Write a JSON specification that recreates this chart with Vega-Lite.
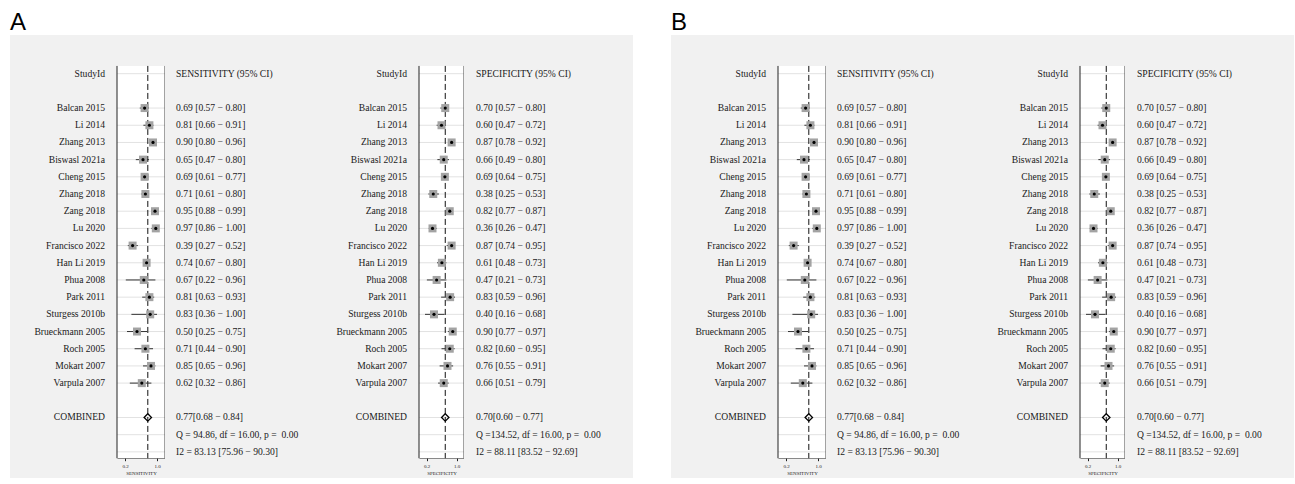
{
  "$schema": "https://vega.github.io/schema/vega-lite/v6.json",
  "background": "white",
  "padding": {"left": 10, "top": 11, "right": 0, "bottom": 0},
  "config": {
    "view": {"stroke": null, "fill": "#f1f1f1"},
    "text": {"font": "Liberation Serif", "fontSize": 9.6, "color": "#1a1a1a"},
    "axisX": {"offset": -20.3, "zindex": 1, "grid": false,
              "domainColor": "#222", "tickColor": "#222", "tickSize": 3, "labelFont": "Liberation Serif", "labelFontSize": 5, "labelPadding": 2.5, "labelColor": "#222",
              "titleFont": "Liberation Serif", "titleFontSize": 5, "titleFontWeight": "normal", "titlePadding": 2, "titleColor": "#222"}
  },
  "datasets": {
    "sens": [
      {"row": -2, "study": "StudyId", "txt": "SENSITIVITY (95% CI)"},
      {"row": 0, "study": "Balcan 2015", "est": 0.69, "lo": 0.57, "hi": 0.80, "txt": "0.69 [0.57 − 0.80]"},
      {"row": 1, "study": "Li 2014", "est": 0.81, "lo": 0.66, "hi": 0.91, "txt": "0.81 [0.66 − 0.91]"},
      {"row": 2, "study": "Zhang 2013", "est": 0.90, "lo": 0.80, "hi": 0.96, "txt": "0.90 [0.80 − 0.96]"},
      {"row": 3, "study": "Biswasl 2021a", "est": 0.65, "lo": 0.47, "hi": 0.80, "txt": "0.65 [0.47 − 0.80]"},
      {"row": 4, "study": "Cheng 2015", "est": 0.69, "lo": 0.61, "hi": 0.77, "txt": "0.69 [0.61 − 0.77]"},
      {"row": 5, "study": "Zhang 2018", "est": 0.71, "lo": 0.61, "hi": 0.80, "txt": "0.71 [0.61 − 0.80]"},
      {"row": 6, "study": "Zang 2018", "est": 0.95, "lo": 0.88, "hi": 0.99, "txt": "0.95 [0.88 − 0.99]"},
      {"row": 7, "study": "Lu 2020", "est": 0.97, "lo": 0.86, "hi": 1.00, "txt": "0.97 [0.86 − 1.00]"},
      {"row": 8, "study": "Francisco 2022", "est": 0.39, "lo": 0.27, "hi": 0.52, "txt": "0.39 [0.27 − 0.52]"},
      {"row": 9, "study": "Han Li 2019", "est": 0.74, "lo": 0.67, "hi": 0.80, "txt": "0.74 [0.67 − 0.80]"},
      {"row": 10, "study": "Phua 2008", "est": 0.67, "lo": 0.22, "hi": 0.96, "txt": "0.67 [0.22 − 0.96]"},
      {"row": 11, "study": "Park 2011", "est": 0.81, "lo": 0.63, "hi": 0.93, "txt": "0.81 [0.63 − 0.93]"},
      {"row": 12, "study": "Sturgess 2010b", "est": 0.83, "lo": 0.36, "hi": 1.00, "txt": "0.83 [0.36 − 1.00]"},
      {"row": 13, "study": "Brueckmann 2005", "est": 0.50, "lo": 0.25, "hi": 0.75, "txt": "0.50 [0.25 − 0.75]"},
      {"row": 14, "study": "Roch 2005", "est": 0.71, "lo": 0.44, "hi": 0.90, "txt": "0.71 [0.44 − 0.90]"},
      {"row": 15, "study": "Mokart 2007", "est": 0.85, "lo": 0.65, "hi": 0.96, "txt": "0.85 [0.65 − 0.96]"},
      {"row": 16, "study": "Varpula 2007", "est": 0.62, "lo": 0.32, "hi": 0.86, "txt": "0.62 [0.32 − 0.86]"},
      {"row": 18, "study": "COMBINED", "est": 0.77, "lo": 0.68, "hi": 0.84, "txt": "\u00a00.77[0.68 − 0.84]"},
      {"row": 19, "study": "", "txt": "Q = 94.86, df = 16.00, p =\u00a0\u00a00.00"},
      {"row": 20, "study": "", "txt": "I2 = 83.13 [75.96 − 90.30]"}
    ],
    "spec": [
      {"row": -2, "study": "StudyId", "txt": "SPECIFICITY (95% CI)"},
      {"row": 0, "study": "Balcan 2015", "est": 0.70, "lo": 0.57, "hi": 0.80, "txt": "0.70 [0.57 − 0.80]"},
      {"row": 1, "study": "Li 2014", "est": 0.60, "lo": 0.47, "hi": 0.72, "txt": "0.60 [0.47 − 0.72]"},
      {"row": 2, "study": "Zhang 2013", "est": 0.87, "lo": 0.78, "hi": 0.92, "txt": "0.87 [0.78 − 0.92]"},
      {"row": 3, "study": "Biswasl 2021a", "est": 0.66, "lo": 0.49, "hi": 0.80, "txt": "0.66 [0.49 − 0.80]"},
      {"row": 4, "study": "Cheng 2015", "est": 0.69, "lo": 0.64, "hi": 0.75, "txt": "0.69 [0.64 − 0.75]"},
      {"row": 5, "study": "Zhang 2018", "est": 0.38, "lo": 0.25, "hi": 0.53, "txt": "0.38 [0.25 − 0.53]"},
      {"row": 6, "study": "Zang 2018", "est": 0.82, "lo": 0.77, "hi": 0.87, "txt": "0.82 [0.77 − 0.87]"},
      {"row": 7, "study": "Lu 2020", "est": 0.36, "lo": 0.26, "hi": 0.47, "txt": "0.36 [0.26 − 0.47]"},
      {"row": 8, "study": "Francisco 2022", "est": 0.87, "lo": 0.74, "hi": 0.95, "txt": "0.87 [0.74 − 0.95]"},
      {"row": 9, "study": "Han Li 2019", "est": 0.61, "lo": 0.48, "hi": 0.73, "txt": "0.61 [0.48 − 0.73]"},
      {"row": 10, "study": "Phua 2008", "est": 0.47, "lo": 0.21, "hi": 0.73, "txt": "0.47 [0.21 − 0.73]"},
      {"row": 11, "study": "Park 2011", "est": 0.83, "lo": 0.59, "hi": 0.96, "txt": "0.83 [0.59 − 0.96]"},
      {"row": 12, "study": "Sturgess 2010b", "est": 0.40, "lo": 0.16, "hi": 0.68, "txt": "0.40 [0.16 − 0.68]"},
      {"row": 13, "study": "Brueckmann 2005", "est": 0.90, "lo": 0.77, "hi": 0.97, "txt": "0.90 [0.77 − 0.97]"},
      {"row": 14, "study": "Roch 2005", "est": 0.82, "lo": 0.60, "hi": 0.95, "txt": "0.82 [0.60 − 0.95]"},
      {"row": 15, "study": "Mokart 2007", "est": 0.76, "lo": 0.55, "hi": 0.91, "txt": "0.76 [0.55 − 0.91]"},
      {"row": 16, "study": "Varpula 2007", "est": 0.66, "lo": 0.51, "hi": 0.79, "txt": "0.66 [0.51 − 0.79]"},
      {"row": 18, "study": "COMBINED", "est": 0.70, "lo": 0.60, "hi": 0.77, "txt": "\u00a00.70[0.60 − 0.77]"},
      {"row": 19, "study": "", "txt": "Q =134.52, df = 16.00, p =\u00a0\u00a00.00"},
      {"row": 20, "study": "", "txt": "I2 = 88.11 [83.52 − 92.69]"}
    ]
  },
  "hconcat": [
    {
      "title": {"text": "A", "anchor": "start", "font": "Liberation Sans", "fontSize": 24, "fontWeight": "normal", "color": "#000", "offset": 0},
      "spacing": 0,
      "bounds": "flush",
      "hconcat": [
        {"width": 107, "height": 443, "data": {"name": "sens"},
         "mark": {"type": "text", "align": "right", "baseline": "middle", "dx": -12},
         "encoding": {
           "x": {"datum": 1, "type": "quantitative", "scale": {"domain": [0, 1]}, "axis": null},
           "y": {"field": "row", "type": "quantitative", "scale": {"domain": [-4.25, 21.52], "reverse": true, "nice": false, "zero": false}, "axis": null},
           "text": {"field": "study"}}},
        {"width": 48, "height": 443, "data": {"name": "sens"},
         "layer": [
           {"data": {"values": [{}]}, "mark": {"type": "rect", "fill": "white"},
            "encoding": {
              "x": {"datum": 0, "type": "quantitative", "scale": {"domain": [0, 1.2], "nice": false, "zero": false}, "axis": {"title": "SENSITIVITY", "values": [0.2, 1.0], "format": ".1f"}},
              "x2": {"datum": 1.2},
              "y": {"datum": -2.45, "type": "quantitative", "scale": {"domain": [-4.25, 21.52], "reverse": true, "nice": false, "zero": false}, "axis": null},
              "y2": {"datum": 20.37}}},
           {"mark": {"type": "rule", "color": "#e2e2e2", "strokeWidth": 1},
            "encoding": {"x": {"datum": 0, "type": "quantitative"}, "x2": {"datum": 1.2}, "y": {"field": "row", "type": "quantitative"}}},
           {"transform": [{"filter": "datum.study == 'COMBINED'"}],
            "mark": {"type": "rule", "color": "#111", "strokeDash": [6, 3], "strokeWidth": 1},
            "encoding": {"x": {"field": "est", "type": "quantitative"}, "y": {"datum": -2.45, "type": "quantitative"}, "y2": {"datum": 20.37}}},
           {"data": {"values": [{}]}, "mark": {"type": "rule", "color": "#222", "strokeWidth": 1},
            "encoding": {"x": {"datum": 0, "type": "quantitative"}, "y": {"datum": -2.45, "type": "quantitative"}, "y2": {"datum": 20.37}}},
           {"data": {"values": [{}]}, "mark": {"type": "rule", "color": "#444", "strokeWidth": 1},
            "encoding": {"x": {"datum": 1.2, "type": "quantitative"}, "y": {"datum": -2.45, "type": "quantitative"}, "y2": {"datum": 20.37}}},
           {"transform": [{"filter": "isValid(datum.est) && datum.study != 'COMBINED'"}],
            "mark": {"type": "rule", "color": "#333", "strokeWidth": 1},
            "encoding": {"x": {"field": "lo", "type": "quantitative"}, "x2": {"field": "hi"}, "y": {"field": "row", "type": "quantitative"}}},
           {"transform": [{"filter": "isValid(datum.est) && datum.study != 'COMBINED'"}],
            "mark": {"type": "point", "shape": "square", "filled": true, "color": "#a3a3a3", "opacity": 1, "size": 64},
            "encoding": {"x": {"field": "est", "type": "quantitative"}, "y": {"field": "row", "type": "quantitative"}}},
           {"transform": [{"filter": "isValid(datum.est) && datum.study != 'COMBINED'"}],
            "mark": {"type": "point", "shape": "circle", "filled": true, "color": "#000", "opacity": 1, "size": 10},
            "encoding": {"x": {"field": "est", "type": "quantitative"}, "y": {"field": "row", "type": "quantitative"}}},
           {"transform": [{"filter": "datum.study == 'COMBINED'"}],
            "mark": {"type": "point", "shape": "diamond", "filled": false, "color": "#000", "strokeWidth": 1.3, "opacity": 1, "size": 55},
            "encoding": {"x": {"field": "est", "type": "quantitative"}, "y": {"field": "row", "type": "quantitative"}}}
         ]},
        {"width": 155, "height": 443, "data": {"name": "sens"},
         "mark": {"type": "text", "align": "left", "baseline": "middle", "dx": 11},
         "encoding": {
           "x": {"datum": 0, "type": "quantitative", "scale": {"domain": [0, 1]}, "axis": null},
           "y": {"field": "row", "type": "quantitative", "scale": {"domain": [-4.25, 21.52], "reverse": true, "nice": false, "zero": false}, "axis": null},
           "text": {"field": "txt"}}},
        {"width": 99, "height": 443, "data": {"name": "spec"},
         "mark": {"type": "text", "align": "right", "baseline": "middle", "dx": -12},
         "encoding": {
           "x": {"datum": 1, "type": "quantitative", "scale": {"domain": [0, 1]}, "axis": null},
           "y": {"field": "row", "type": "quantitative", "scale": {"domain": [-4.25, 21.52], "reverse": true, "nice": false, "zero": false}, "axis": null},
           "text": {"field": "study"}}},
        {"width": 45, "height": 443, "data": {"name": "spec"},
         "layer": [
           {"data": {"values": [{}]}, "mark": {"type": "rect", "fill": "white"},
            "encoding": {
              "x": {"datum": 0, "type": "quantitative", "scale": {"domain": [0, 1.2], "nice": false, "zero": false}, "axis": {"title": "SPECIFICITY", "values": [0.2, 1.0], "format": ".1f"}},
              "x2": {"datum": 1.2},
              "y": {"datum": -2.45, "type": "quantitative", "scale": {"domain": [-4.25, 21.52], "reverse": true, "nice": false, "zero": false}, "axis": null},
              "y2": {"datum": 20.37}}},
           {"mark": {"type": "rule", "color": "#e2e2e2", "strokeWidth": 1},
            "encoding": {"x": {"datum": 0, "type": "quantitative"}, "x2": {"datum": 1.2}, "y": {"field": "row", "type": "quantitative"}}},
           {"transform": [{"filter": "datum.study == 'COMBINED'"}],
            "mark": {"type": "rule", "color": "#111", "strokeDash": [6, 3], "strokeWidth": 1},
            "encoding": {"x": {"field": "est", "type": "quantitative"}, "y": {"datum": -2.45, "type": "quantitative"}, "y2": {"datum": 20.37}}},
           {"data": {"values": [{}]}, "mark": {"type": "rule", "color": "#222", "strokeWidth": 1},
            "encoding": {"x": {"datum": 0, "type": "quantitative"}, "y": {"datum": -2.45, "type": "quantitative"}, "y2": {"datum": 20.37}}},
           {"data": {"values": [{}]}, "mark": {"type": "rule", "color": "#444", "strokeWidth": 1},
            "encoding": {"x": {"datum": 1.2, "type": "quantitative"}, "y": {"datum": -2.45, "type": "quantitative"}, "y2": {"datum": 20.37}}},
           {"transform": [{"filter": "isValid(datum.est) && datum.study != 'COMBINED'"}],
            "mark": {"type": "rule", "color": "#333", "strokeWidth": 1},
            "encoding": {"x": {"field": "lo", "type": "quantitative"}, "x2": {"field": "hi"}, "y": {"field": "row", "type": "quantitative"}}},
           {"transform": [{"filter": "isValid(datum.est) && datum.study != 'COMBINED'"}],
            "mark": {"type": "point", "shape": "square", "filled": true, "color": "#a3a3a3", "opacity": 1, "size": 64},
            "encoding": {"x": {"field": "est", "type": "quantitative"}, "y": {"field": "row", "type": "quantitative"}}},
           {"transform": [{"filter": "isValid(datum.est) && datum.study != 'COMBINED'"}],
            "mark": {"type": "point", "shape": "circle", "filled": true, "color": "#000", "opacity": 1, "size": 10},
            "encoding": {"x": {"field": "est", "type": "quantitative"}, "y": {"field": "row", "type": "quantitative"}}},
           {"transform": [{"filter": "datum.study == 'COMBINED'"}],
            "mark": {"type": "point", "shape": "diamond", "filled": false, "color": "#000", "strokeWidth": 1.3, "opacity": 1, "size": 55},
            "encoding": {"x": {"field": "est", "type": "quantitative"}, "y": {"field": "row", "type": "quantitative"}}}
         ]},
        {"width": 169, "height": 443, "data": {"name": "spec"},
         "mark": {"type": "text", "align": "left", "baseline": "middle", "dx": 12},
         "encoding": {
           "x": {"datum": 0, "type": "quantitative", "scale": {"domain": [0, 1]}, "axis": null},
           "y": {"field": "row", "type": "quantitative", "scale": {"domain": [-4.25, 21.52], "reverse": true, "nice": false, "zero": false}, "axis": null},
           "text": {"field": "txt"}}}
      ]
    },
    {
      "title": {"text": "B", "anchor": "start", "font": "Liberation Sans", "fontSize": 24, "fontWeight": "normal", "color": "#000", "offset": 0},
      "spacing": 0,
      "bounds": "flush",
      "hconcat": [
        {"width": 107, "height": 443, "data": {"name": "sens"},
         "mark": {"type": "text", "align": "right", "baseline": "middle", "dx": -12},
         "encoding": {
           "x": {"datum": 1, "type": "quantitative", "scale": {"domain": [0, 1]}, "axis": null},
           "y": {"field": "row", "type": "quantitative", "scale": {"domain": [-4.25, 21.52], "reverse": true, "nice": false, "zero": false}, "axis": null},
           "text": {"field": "study"}}},
        {"width": 48, "height": 443, "data": {"name": "sens"},
         "layer": [
           {"data": {"values": [{}]}, "mark": {"type": "rect", "fill": "white"},
            "encoding": {
              "x": {"datum": 0, "type": "quantitative", "scale": {"domain": [0, 1.2], "nice": false, "zero": false}, "axis": {"title": "SENSITIVITY", "values": [0.2, 1.0], "format": ".1f"}},
              "x2": {"datum": 1.2},
              "y": {"datum": -2.45, "type": "quantitative", "scale": {"domain": [-4.25, 21.52], "reverse": true, "nice": false, "zero": false}, "axis": null},
              "y2": {"datum": 20.37}}},
           {"mark": {"type": "rule", "color": "#e2e2e2", "strokeWidth": 1},
            "encoding": {"x": {"datum": 0, "type": "quantitative"}, "x2": {"datum": 1.2}, "y": {"field": "row", "type": "quantitative"}}},
           {"transform": [{"filter": "datum.study == 'COMBINED'"}],
            "mark": {"type": "rule", "color": "#111", "strokeDash": [6, 3], "strokeWidth": 1},
            "encoding": {"x": {"field": "est", "type": "quantitative"}, "y": {"datum": -2.45, "type": "quantitative"}, "y2": {"datum": 20.37}}},
           {"data": {"values": [{}]}, "mark": {"type": "rule", "color": "#222", "strokeWidth": 1},
            "encoding": {"x": {"datum": 0, "type": "quantitative"}, "y": {"datum": -2.45, "type": "quantitative"}, "y2": {"datum": 20.37}}},
           {"data": {"values": [{}]}, "mark": {"type": "rule", "color": "#444", "strokeWidth": 1},
            "encoding": {"x": {"datum": 1.2, "type": "quantitative"}, "y": {"datum": -2.45, "type": "quantitative"}, "y2": {"datum": 20.37}}},
           {"transform": [{"filter": "isValid(datum.est) && datum.study != 'COMBINED'"}],
            "mark": {"type": "rule", "color": "#333", "strokeWidth": 1},
            "encoding": {"x": {"field": "lo", "type": "quantitative"}, "x2": {"field": "hi"}, "y": {"field": "row", "type": "quantitative"}}},
           {"transform": [{"filter": "isValid(datum.est) && datum.study != 'COMBINED'"}],
            "mark": {"type": "point", "shape": "square", "filled": true, "color": "#a3a3a3", "opacity": 1, "size": 64},
            "encoding": {"x": {"field": "est", "type": "quantitative"}, "y": {"field": "row", "type": "quantitative"}}},
           {"transform": [{"filter": "isValid(datum.est) && datum.study != 'COMBINED'"}],
            "mark": {"type": "point", "shape": "circle", "filled": true, "color": "#000", "opacity": 1, "size": 10},
            "encoding": {"x": {"field": "est", "type": "quantitative"}, "y": {"field": "row", "type": "quantitative"}}},
           {"transform": [{"filter": "datum.study == 'COMBINED'"}],
            "mark": {"type": "point", "shape": "diamond", "filled": false, "color": "#000", "strokeWidth": 1.3, "opacity": 1, "size": 55},
            "encoding": {"x": {"field": "est", "type": "quantitative"}, "y": {"field": "row", "type": "quantitative"}}}
         ]},
        {"width": 155, "height": 443, "data": {"name": "sens"},
         "mark": {"type": "text", "align": "left", "baseline": "middle", "dx": 11},
         "encoding": {
           "x": {"datum": 0, "type": "quantitative", "scale": {"domain": [0, 1]}, "axis": null},
           "y": {"field": "row", "type": "quantitative", "scale": {"domain": [-4.25, 21.52], "reverse": true, "nice": false, "zero": false}, "axis": null},
           "text": {"field": "txt"}}},
        {"width": 99, "height": 443, "data": {"name": "spec"},
         "mark": {"type": "text", "align": "right", "baseline": "middle", "dx": -12},
         "encoding": {
           "x": {"datum": 1, "type": "quantitative", "scale": {"domain": [0, 1]}, "axis": null},
           "y": {"field": "row", "type": "quantitative", "scale": {"domain": [-4.25, 21.52], "reverse": true, "nice": false, "zero": false}, "axis": null},
           "text": {"field": "study"}}},
        {"width": 45, "height": 443, "data": {"name": "spec"},
         "layer": [
           {"data": {"values": [{}]}, "mark": {"type": "rect", "fill": "white"},
            "encoding": {
              "x": {"datum": 0, "type": "quantitative", "scale": {"domain": [0, 1.2], "nice": false, "zero": false}, "axis": {"title": "SPECIFICITY", "values": [0.2, 1.0], "format": ".1f"}},
              "x2": {"datum": 1.2},
              "y": {"datum": -2.45, "type": "quantitative", "scale": {"domain": [-4.25, 21.52], "reverse": true, "nice": false, "zero": false}, "axis": null},
              "y2": {"datum": 20.37}}},
           {"mark": {"type": "rule", "color": "#e2e2e2", "strokeWidth": 1},
            "encoding": {"x": {"datum": 0, "type": "quantitative"}, "x2": {"datum": 1.2}, "y": {"field": "row", "type": "quantitative"}}},
           {"transform": [{"filter": "datum.study == 'COMBINED'"}],
            "mark": {"type": "rule", "color": "#111", "strokeDash": [6, 3], "strokeWidth": 1},
            "encoding": {"x": {"field": "est", "type": "quantitative"}, "y": {"datum": -2.45, "type": "quantitative"}, "y2": {"datum": 20.37}}},
           {"data": {"values": [{}]}, "mark": {"type": "rule", "color": "#222", "strokeWidth": 1},
            "encoding": {"x": {"datum": 0, "type": "quantitative"}, "y": {"datum": -2.45, "type": "quantitative"}, "y2": {"datum": 20.37}}},
           {"data": {"values": [{}]}, "mark": {"type": "rule", "color": "#444", "strokeWidth": 1},
            "encoding": {"x": {"datum": 1.2, "type": "quantitative"}, "y": {"datum": -2.45, "type": "quantitative"}, "y2": {"datum": 20.37}}},
           {"transform": [{"filter": "isValid(datum.est) && datum.study != 'COMBINED'"}],
            "mark": {"type": "rule", "color": "#333", "strokeWidth": 1},
            "encoding": {"x": {"field": "lo", "type": "quantitative"}, "x2": {"field": "hi"}, "y": {"field": "row", "type": "quantitative"}}},
           {"transform": [{"filter": "isValid(datum.est) && datum.study != 'COMBINED'"}],
            "mark": {"type": "point", "shape": "square", "filled": true, "color": "#a3a3a3", "opacity": 1, "size": 64},
            "encoding": {"x": {"field": "est", "type": "quantitative"}, "y": {"field": "row", "type": "quantitative"}}},
           {"transform": [{"filter": "isValid(datum.est) && datum.study != 'COMBINED'"}],
            "mark": {"type": "point", "shape": "circle", "filled": true, "color": "#000", "opacity": 1, "size": 10},
            "encoding": {"x": {"field": "est", "type": "quantitative"}, "y": {"field": "row", "type": "quantitative"}}},
           {"transform": [{"filter": "datum.study == 'COMBINED'"}],
            "mark": {"type": "point", "shape": "diamond", "filled": false, "color": "#000", "strokeWidth": 1.3, "opacity": 1, "size": 55},
            "encoding": {"x": {"field": "est", "type": "quantitative"}, "y": {"field": "row", "type": "quantitative"}}}
         ]},
        {"width": 169, "height": 443, "data": {"name": "spec"},
         "mark": {"type": "text", "align": "left", "baseline": "middle", "dx": 12},
         "encoding": {
           "x": {"datum": 0, "type": "quantitative", "scale": {"domain": [0, 1]}, "axis": null},
           "y": {"field": "row", "type": "quantitative", "scale": {"domain": [-4.25, 21.52], "reverse": true, "nice": false, "zero": false}, "axis": null},
           "text": {"field": "txt"}}}
      ]
    }
  ],
  "spacing": 38
}
